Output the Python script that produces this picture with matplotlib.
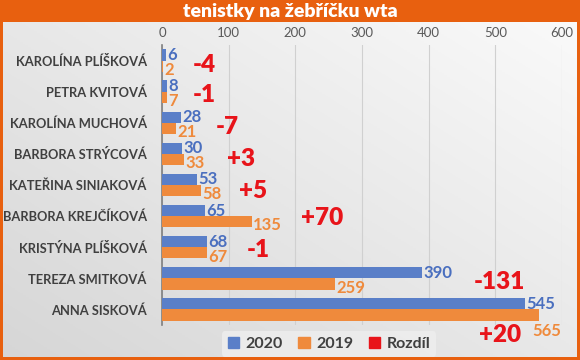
import numpy as np
import matplotlib
matplotlib.use("Agg")
import matplotlib.pyplot as plt
from matplotlib.patches import Rectangle, Patch

plt.rcParams['font.family'] = ['Lato', 'DejaVu Sans']

players = ["KAROLÍNA PLÍŠKOVÁ", "PETRA KVITOVÁ", "KAROLÍNA MUCHOVÁ", "BARBORA STRÝCOVÁ",
           "KATEŘINA SINIAKOVÁ", "BARBORA KREJČÍKOVÁ", "KRISTÝNA PLÍŠKOVÁ",
           "TEREZA SMITKOVÁ", "ANNA SISKOVÁ"]
rank_2020 = [6, 8, 28, 30, 53, 65, 68, 390, 545]
rank_2019 = [2, 7, 21, 33, 58, 135, 67, 259, 565]
rozdil = ["-4", "-1", "-7", "+3", "+5", "+70", "-1", "-131", "+20"]
# where the "Rozdíl" labels sit (x in axis units, y offset in rows)
rozdil_x = [46, 46, 81, 98, 116, 208, 127, 468, 476]
rozdil_dy = [0.15, 0.11, 0.15, 0.15, 0.18, 0.05, 0.08, 0.11, 0.82]

BLUE = "#5A7FC8"
ORANGE = "#EF8A3C"
RED = "#E8141A"
FRAME = "#E8600F"

fig = plt.figure(figsize=(5.8, 3.6), dpi=100)

# background gradient
bg = fig.add_axes([0, 0, 1, 1], zorder=-10)
gx, gy = np.meshgrid(np.linspace(0, 1, 200), np.linspace(0, 1, 200))
grad = 0.5 * gx + 0.5 * gy
bg.imshow(grad, cmap=matplotlib.colors.LinearSegmentedColormap.from_list(
    "g", ["#D6D6D6", "#FBFBFB"]), origin="lower", extent=[0, 1, 0, 1], aspect="auto")
bg.set_xlim(0, 1)
bg.set_ylim(0, 1)
bg.axis("off")

# orange frame + title bar
for r in [(0, 0, 3 / 580, 1), (577 / 580, 0, 3 / 580, 1), (0, 0, 1, 3 / 360), (0, 338 / 360, 1, 22 / 360)]:
    bg.add_patch(Rectangle(r[:2], r[2], r[3], color=FRAME, lw=0))
fig.text(0.5, 349 / 360, "tenistky na žebříčku wta", color="white", fontsize=14,
         fontweight="heavy", ha="center", va="center")

ax = fig.add_axes([162 / 580, 35 / 360, 400 / 580, 280 / 360])
ax.patch.set_alpha(0)
y = np.arange(len(players))
h = 0.36
ax.barh(y - h / 2, rank_2020, height=h, color=BLUE, zorder=3, label="2020")
ax.barh(y + h / 2, rank_2019, height=h, color=ORANGE, zorder=3, label="2019")

for i in range(len(players)):
    ax.text(rank_2020[i] + 2, y[i] - h / 2, str(rank_2020[i]), color="#4A6FBF",
            fontsize=12, fontweight="bold", va="center", ha="left")
    lx, ly = rank_2019[i] + 2, y[i] + h / 2 + 0.12
    if rank_2019[i] + 45 > 600:  # no room right of the bar: label goes below
        lx, ly = 556, y[i] + 0.7
    ax.text(lx, ly, str(rank_2019[i]), color=ORANGE,
            fontsize=12, fontweight="bold", va="center", ha="left", clip_on=False)
    ax.text(rozdil_x[i], y[i] + rozdil_dy[i], rozdil[i], color=RED, fontsize=17.5,
            fontweight="heavy", va="center", ha="left", clip_on=False)

ax.set_xlim(0, 600)
ax.set_ylim(len(players) - 0.5, -0.5)
ax.set_xticks(range(0, 601, 100))
ax.xaxis.tick_top()
ax.tick_params(axis="x", length=0, labelsize=9.5, labelcolor="#595959", pad=4)
ax.tick_params(axis="y", length=0, pad=11)
ax.set_yticks(y)
ax.set_yticklabels(players, fontsize=9.3, fontweight="bold", color="#404040")
ax.grid(axis="x", color="#D0D0D0", lw=0.8, zorder=0)
for s in ["top", "right", "bottom"]:
    ax.spines[s].set_visible(False)
ax.spines["left"].set_color("#7F7F7F")
ax.spines["left"].set_linewidth(1.2)

handles = [Patch(color=BLUE), Patch(color=ORANGE), Patch(color=RED)]
leg = fig.legend(handles, ["2020", "2019", "Rozdíl"], loc="center", ncol=3,
                 bbox_to_anchor=(329 / 580, 16 / 360), frameon=True,
                 handlelength=0.7, handleheight=0.7, handletextpad=0.4, columnspacing=1.0,
                 borderpad=0.35, prop={"weight": "bold", "size": 11.5})
leg.get_frame().set_facecolor("#EDEDED")
leg.get_frame().set_edgecolor("none")
leg.get_frame().set_alpha(0.9)
for t in leg.get_texts():
    t.set_color("#404040")

fig.savefig("out.png", dpi=100)
